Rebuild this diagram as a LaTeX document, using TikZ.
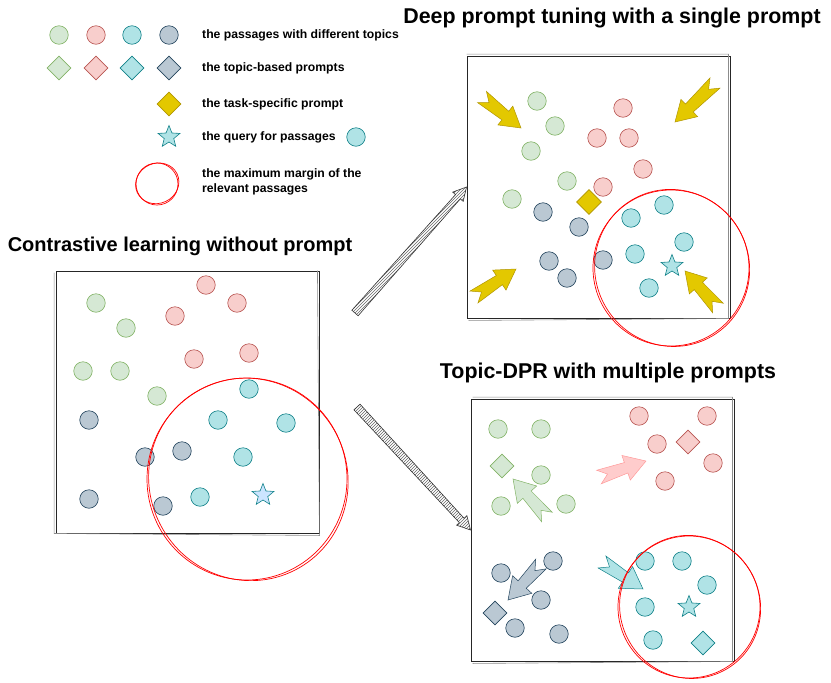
\documentclass[tikz,border=0pt]{standalone}
\usepackage{fontspec}
\setmainfont{Liberation Sans}
\usetikzlibrary{shapes.geometric,calc,patterns}
\definecolor{grnfill}{HTML}{D5E8D4}
\definecolor{grnline}{HTML}{82B366}
\definecolor{redfill}{HTML}{F8CECC}
\definecolor{redline}{HTML}{B85450}
\definecolor{tealfill}{HTML}{B0E3E6}
\definecolor{tealline}{HTML}{0E8088}
\definecolor{navyfill}{HTML}{BAC8D3}
\definecolor{navyline}{HTML}{23445D}
\definecolor{goldfill}{HTML}{E3C800}
\definecolor{goldline}{HTML}{B09500}
\definecolor{skyfill}{HTML}{CCE5FF}
\definecolor{pinkfill}{HTML}{FFCCCC}
\definecolor{pinkline}{HTML}{FF9999}

% fat arrow: style, tail, tip, shaft half width, head half width, head length, notch
\newcommand{\fatarrow}[7]{%
  \path[#1] let \p1=(#2), \p2=(#3), \n1={atan2(\y2-\y1,\x2-\x1)}, \n2={veclen(\x2-\x1,\y2-\y1)} in
    [shift={(\p1)}, rotate=\n1]
    (0pt,1.3*#4pt) -- (\n2-#6pt,#4pt) -- (\n2-#6pt,#5pt) -- (\n2,0pt) -- (\n2-#6pt,-#5pt)
    -- (\n2-#6pt,-#4pt) -- (0pt,-1.3*#4pt) -- (#7pt,0pt) -- cycle;}

\begin{document}
\begin{tikzpicture}[x=1pt, y=-1pt,
    dot/.style={circle, minimum size=18.5pt, inner sep=0pt, line width=0.6pt},
    gdot/.style={dot, draw=grnline, fill=grnfill},
    rdot/.style={dot, draw=redline, fill=redfill},
    tdot/.style={dot, draw=tealline, fill=tealfill},
    ndot/.style={dot, draw=navyline, fill=navyfill},
    prm/.style={diamond, minimum size=24pt, inner sep=0pt, line width=0.6pt},
    gprm/.style={prm, draw=grnline, fill=grnfill},
    rprm/.style={prm, draw=redline, fill=redfill},
    tprm/.style={prm, draw=tealline, fill=tealfill},
    nprm/.style={prm, draw=navyline, fill=navyfill},
    task/.style={prm, draw=goldline, fill=goldfill},
    qry/.style={star, star points=5, star point ratio=2.3, minimum size=23pt, inner sep=0pt,
                line width=0.6pt, draw=tealline, fill=tealfill},
    panel/.style={rectangle, draw=black!85, line width=0.9pt, minimum width=263pt,
                  minimum height=262pt, inner sep=0pt},
    sketch/.style={draw=black!45, line width=0.6pt},
    margin/.style={draw=red, line width=0.7pt},
    lgd/.style={font=\fontsize{12.2}{15}\selectfont\bfseries, anchor=west, align=left, inner sep=0pt},
    ttl/.style={font=\fontsize{21.4}{24}\selectfont\bfseries},
    goldarr/.style={fill=goldfill, draw=goldline, line width=0.5pt},
    linkarr/.style={draw=black!80, line width=0.6pt, preaction={fill=white},
                    pattern=north east lines, pattern color=black!60}
]
    \useasboundingbox (0,0) rectangle (831,683);

    % legend
    \node[gdot] (lg1) at (59,35) {};
    \node[rdot] (lg2) at (96,35) {};
    \node[tdot] (lg3) at (132,35) {};
    \node[ndot] (lg4) at (169,35) {};
    \node[gprm] (lp1) at (59,68) {};
    \node[rprm] (lp2) at (96,68) {};
    \node[tprm] (lp3) at (132,68) {};
    \node[nprm] (lp4) at (169,68) {};
    \node[task] (lpt) at (169,104) {};
    \node[qry]  (lq)  at (169,137) {};
    \node[tdot] (lqd) at (356,137) {};
    \coordinate (lmc) at (157,184);
    \draw[margin] (lmc) circle [x radius=21pt, y radius=21pt];
    \draw[margin, rotate around={25:(lmc)}] ($(lmc)+(0.5,-0.5)$) circle [x radius=22pt, y radius=20pt];
    \node[lgd] (lt1) at (202,35) {the passages with different topics};
    \node[lgd] (lt2) at (202,68) {the topic-based prompts};
    \node[lgd] (lt3) at (202,104) {the task-specific prompt};
    \node[lgd] (lt4) at (202,137) {the query for passages};
    \node[lgd] (lt5) at (202,182) {the maximum margin of the\\relevant passages};

    % titles
    \node[ttl] (t1) at (612,18) {Deep prompt tuning with a single prompt};
    \node[ttl, font=\fontsize{20}{24}\selectfont\bfseries] (t2) at (180,246) {Contrastive learning without prompt};
    \node[ttl] (t3) at (608,373) {Topic-DPR with multiple prompts};

    % panels
    \node[panel] (cl) at (187.5,402) {};
    \node[panel] (tr) at (598.5,187) {};
    \node[panel] (br) at (602.5,530) {};
    \draw[sketch] ($(cl.north west)+(-1.5,2)$) -- ($(cl.south west)+(-1.5,0)$) -- ($(cl.south east)+(0,2)$) -- ($(cl.north east)+(-2,0)$);
    \draw[sketch] ($(tr.north west)+(0,-1.5)$) -- ($(tr.north east)+(-2,-1.5)$) -- ($(tr.south east)+(-2,0)$) -- ($(tr.south west)+(2,2)$);
    \draw[sketch] ($(br.north west)+(2,-1.5)$) -- ($(br.north east)+(-2,-1.5)$) -- ($(br.south east)+(-2,0)$) -- ($(br.south west)+(2,2)$);

    % contrastive learning
    \node[gdot] (c-g1) at (96,303) {};
    \node[gdot] (c-g2) at (126,328) {};
    \node[gdot] (c-g3) at (83,371) {};
    \node[gdot] (c-g4) at (120,371) {};
    \node[gdot] (c-g5) at (157,396) {};
    \node[rdot] (c-r1) at (206,285) {};
    \node[rdot] (c-r2) at (237,303) {};
    \node[rdot] (c-r3) at (175,316) {};
    \node[rdot] (c-r4) at (194,359) {};
    \node[rdot] (c-r5) at (249,353) {};
    \node[tdot] (c-t1) at (249,389) {};
    \node[tdot] (c-t2) at (218,420) {};
    \node[tdot] (c-t3) at (286,423) {};
    \node[tdot] (c-t4) at (243,457) {};
    \node[tdot] (c-t5) at (200,497) {};
    \node[ndot] (c-n1) at (89,420) {};
    \node[ndot] (c-n2) at (145,457) {};
    \node[ndot] (c-n3) at (182,451) {};
    \node[ndot] (c-n4) at (89,499) {};
    \node[ndot] (c-n5) at (163,506) {};
    \node[qry, fill=skyfill] (c-q) at (263,495) {};
    \coordinate (c-m) at (247,479);
    \draw[margin] (c-m) circle [x radius=100pt, y radius=101pt];
    \draw[margin, rotate around={30:(c-m)}] ($(c-m)+(1,1)$) circle [x radius=99pt, y radius=102pt];

    % deep prompt tuning
    \node[gdot] (d-g1) at (537,101) {};
    \node[gdot] (d-g2) at (555,126) {};
    \node[gdot] (d-g3) at (531,151) {};
    \node[gdot] (d-g4) at (567,181) {};
    \node[gdot] (d-g5) at (512,199) {};
    \node[rdot] (d-r1) at (623,108) {};
    \node[rdot] (d-r2) at (597,138) {};
    \node[rdot] (d-r3) at (629,138) {};
    \node[rdot] (d-r4) at (643,169) {};
    \node[rdot] (d-r5) at (603,187) {};
    \node[ndot] (d-n1) at (543,212) {};
    \node[ndot] (d-n2) at (579,227) {};
    \node[ndot] (d-n3) at (549,261) {};
    \node[ndot] (d-n4) at (567,278) {};
    \node[ndot] (d-n5) at (603,260) {};
    \node[tdot] (d-t1) at (631,218) {};
    \node[tdot] (d-t2) at (664,205) {};
    \node[tdot] (d-t3) at (684,242) {};
    \node[tdot] (d-t4) at (635,254) {};
    \node[tdot] (d-t5) at (649,288) {};
    \node[qry] (d-q) at (672,266) {};
    \node[task, minimum size=25pt] (d-p) at (589,202) {};
    \fatarrow{goldarr}{482,97}{521,128}{5.5}{12}{20}{9}
    \fatarrow{goldarr}{715,83}{675,122}{5.5}{12}{20}{9}
    \fatarrow{goldarr}{474,297}{516,269}{5.5}{12}{20}{9}
    \fatarrow{goldarr}{718,308}{685,271}{5.5}{12}{20}{9}
    \coordinate (d-m) at (671,268);
    \draw[margin] (d-m) circle [x radius=78pt, y radius=78pt];
    \draw[margin, rotate around={30:(d-m)}] ($(d-m)+(1,0.5)$) circle [x radius=77pt, y radius=79pt];

    % topic-dpr
    \node[gdot] (m-g1) at (498,429) {};
    \node[gdot] (m-g2) at (541,429) {};
    \node[gdot] (m-g3) at (541,475) {};
    \node[gdot] (m-g4) at (501,506) {};
    \node[gdot] (m-g5) at (566,504) {};
    \node[gprm] (m-gp) at (502,466) {};
    \node[rdot] (m-r1) at (639,416) {};
    \node[rdot] (m-r2) at (707,416) {};
    \node[rdot] (m-r3) at (657,444) {};
    \node[rdot] (m-r4) at (713,463) {};
    \node[rdot] (m-r5) at (665,481) {};
    \node[rprm] (m-rp) at (688,442) {};
    \node[ndot] (m-n1) at (501,573) {};
    \node[ndot] (m-n2) at (553,561) {};
    \node[ndot] (m-n3) at (541,600) {};
    \node[ndot] (m-n4) at (515,628) {};
    \node[ndot] (m-n5) at (559,634) {};
    \node[nprm] (m-np) at (495,613) {};
    \node[tdot] (m-t1) at (645,561) {};
    \node[tdot] (m-t2) at (682,561) {};
    \node[tdot] (m-t3) at (707,585) {};
    \node[tdot] (m-t4) at (645,607) {};
    \node[tdot] (m-t5) at (653,640) {};
    \node[qry] (m-q) at (689,607) {};
    \node[tprm] (m-tp) at (703,643) {};
    \fatarrow{fill=grnfill, draw=grnline, line width=0.5pt}{547,517}{513,479}{5.5}{13}{21}{9}
    \fatarrow{fill=pinkfill, draw=pinkline, line width=0.5pt}{599,477}{646,461}{5.5}{13}{21}{9}
    \fatarrow{fill=navyfill, draw=navyline, line width=0.5pt}{541,564}{508,600}{5.5}{13}{21}{9}
    \fatarrow{fill=tealfill, draw=tealline, line width=0.5pt}{602,562}{643,589}{5.5}{13}{21}{9}
    \coordinate (m-m) at (689,607);
    \draw[margin] (m-m) circle [x radius=71pt, y radius=71pt];
    \draw[margin, rotate around={30:(m-m)}] ($(m-m)+(1,0.5)$) circle [x radius=70pt, y radius=72pt];

    % links between the panels
    \coordinate (up-s) at (355,313);
    \coordinate (dn-s) at (357,407);
    \fatarrow{linkarr}{up-s}{tr.west}{3.2}{7}{13}{0}
    \fatarrow{linkarr}{dn-s}{br.west}{3.2}{7}{13}{0}
\end{tikzpicture}
\end{document}
